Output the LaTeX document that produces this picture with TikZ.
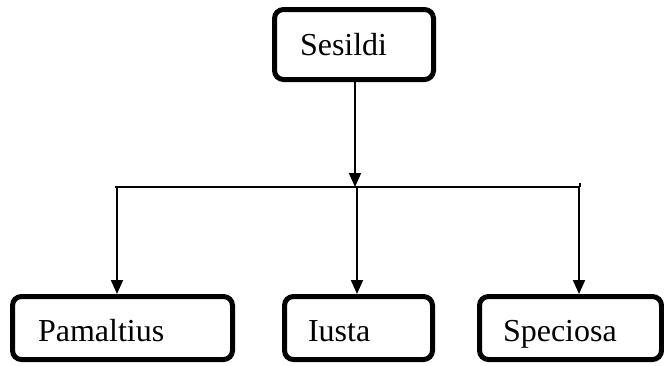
\documentclass[tikz,border=0pt]{standalone}
\usepackage{fontspec}
\setmainfont{Liberation Serif}
\usetikzlibrary{arrows.meta}
\begin{document}
\begin{tikzpicture}[x=1pt,y=-1pt,
  box/.style={draw=black, line width=5pt, rounded corners=9pt, fill=white,
    align=left, font=\fontsize{32}{36}\selectfont,
    text height=26pt, text depth=4pt, inner ysep=0pt},
  conn/.style={line width=2pt, draw=black},
  arr/.style={conn, -{Triangle[width=12pt,length=14pt]}}]
\useasboundingbox (0,0) rectangle (664,365);
% top box
\node[box, minimum width=159pt, minimum height=70pt, text width=108pt, inner xsep=25.5pt] (top) at (354,44.5) {Sesildi};
% bottom boxes
\node[box, minimum width=220pt, minimum height=63pt, text width=169pt, inner xsep=25.5pt, text height=28pt, text depth=2pt] (pam) at (122.5,328) {Pamaltius};
\node[box, minimum width=148pt, minimum height=63pt, text width=101pt, inner xsep=23.5pt, text height=28pt, text depth=2pt] (ius) at (358.5,328) {Iusta};
\node[box, minimum width=182pt, minimum height=63pt, text width=135pt, inner xsep=23.5pt, text height=28pt, text depth=2pt] (spe) at (570.5,328) {Speciosa};
% junction coordinates
\coordinate (jl) at (115,187);
\coordinate (jr) at (580,187);
\coordinate (jt) at (355,187);
\coordinate (j1) at (117,187);
\coordinate (j2) at (357,187);
\coordinate (j3) at (579,187);
% connectors
\draw[arr] (top.south -| jt) -- (jt);
\draw[conn] (jl) -- (jr);
\draw[conn] (jr) -- ++(0,-4);
\draw[arr] (j1) -- (j1 |- pam.north);
\draw[arr] (j2) -- (j2 |- ius.north);
\draw[arr] (j3) -- (j3 |- spe.north);
\end{tikzpicture}
\end{document}
